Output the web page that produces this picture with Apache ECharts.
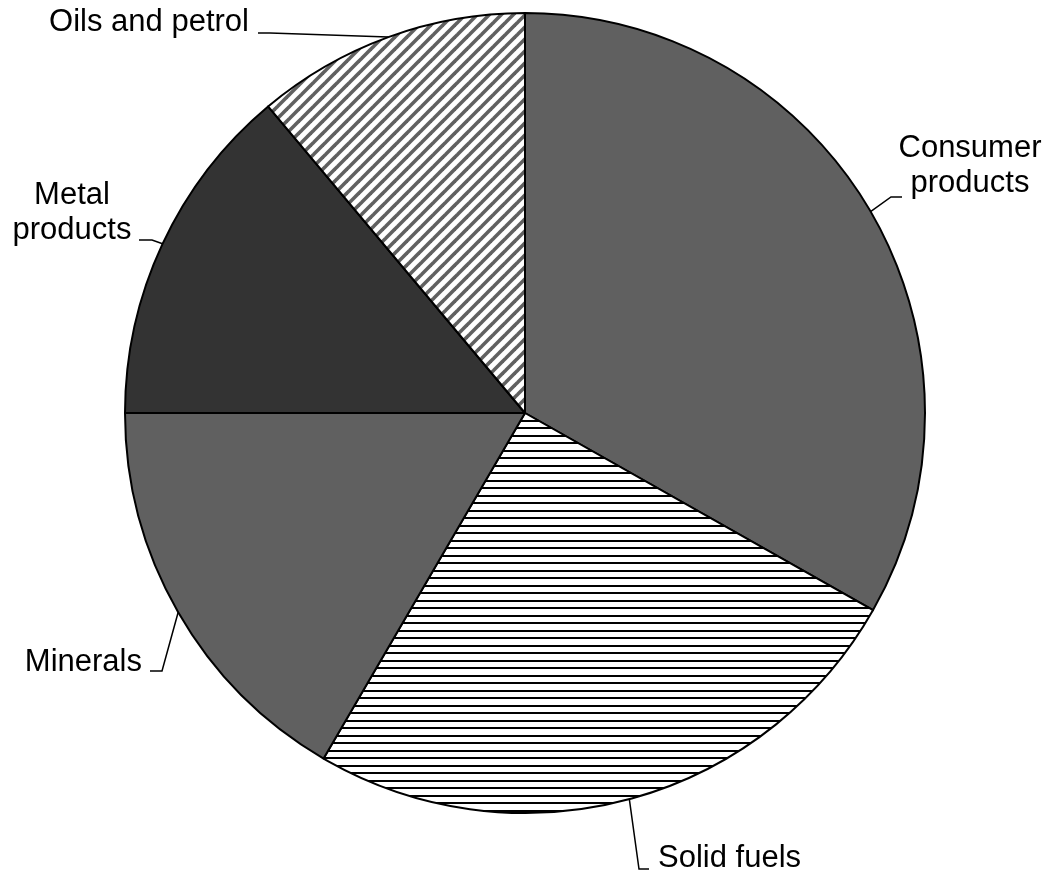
<!DOCTYPE html>
<html>
<head>
<meta charset="utf-8">
<script src="https://cdn.jsdelivr.net/npm/echarts@6/dist/echarts.min.js"></script>
<style>
  html, body { margin: 0; padding: 0; background: #fff; }
  #main { width: 1048px; height: 879px; }
</style>
</head>
<body>
<div id="main"></div>
<script>
// pie shares, clockwise from 12 o'clock
const categories = ['Consumer\nproducts', 'Solid fuels', 'Minerals', 'Metal\nproducts', 'Oils and petrol'];
const shares = [33.2, 25.2, 16.6, 13.9, 11.1];

const CX = 525, CY = 413, R = 400;

// where each label sits and how its leader bends (layout only)
const labelSpots = [
  { x: 970, y: 166, align: 'center', elbow: [891, 197], end: [902, 197] },
  { x: 658, y: 858, align: 'left',   elbow: [639, 869], end: [649, 869] },
  { x: 142, y: 662, align: 'right',  elbow: [162, 671], end: [150, 671] },
  { x: 72,  y: 213, align: 'center', elbow: [152, 240], end: [139, 240] },
  { x: 249, y: 22,  align: 'right',  elbow: [270, 33],  end: [258, 33] }
];

function hLines() {
  const c = document.createElement('canvas');
  c.width = 16; c.height = 15;
  const g = c.getContext('2d');
  g.fillStyle = '#fff'; g.fillRect(0, 0, 16, 15);
  g.fillStyle = '#000';
  g.fillRect(0, 0, 16, 2);
  g.fillRect(0, 7, 16, 2);
  return c;
}
function diagLines() {
  const s = 12;
  const c = document.createElement('canvas');
  c.width = s; c.height = s;
  const g = c.getContext('2d');
  g.fillStyle = '#fff'; g.fillRect(0, 0, s, s);
  g.strokeStyle = '#606060';
  g.lineWidth = 3.6;
  for (let k = -1; k <= 1; k++) {
    g.beginPath();
    g.moveTo(k * s - 2, s + 2);
    g.lineTo(k * s + s + 2, -2);
    g.stroke();
  }
  return c;
}

const fills = [
  '#606060',
  { image: hLines(), repeat: 'repeat' },
  '#606060',
  '#333333',
  { image: diagLines(), repeat: 'repeat' }
];

const total = shares.reduce((a, b) => a + b, 0);
function edgePoint(i) {
  let before = 0;
  for (let k = 0; k < i; k++) before += shares[k];
  const mid = (before + shares[i] / 2) / total * Math.PI * 2;
  return [CX + R * Math.sin(mid), CY - R * Math.cos(mid)];
}

const chart = echarts.init(document.getElementById('main'), null, { renderer: 'canvas' });
chart.setOption({
  backgroundColor: '#fff',
  animation: false,
  series: [{
    type: 'pie',
    center: [CX, CY],
    radius: R,
    startAngle: 90,
    clockwise: true,
    avoidLabelOverlap: false,
    data: categories.map((name, i) => ({
      name: name,
      value: shares[i],
      itemStyle: { color: fills[i] }
    })),
    itemStyle: { borderColor: '#000', borderWidth: 2 },
    label: {
      show: true,
      position: 'outside',
      formatter: '{b}',
      color: '#000',
      fontFamily: 'Liberation Sans, Arial, sans-serif',
      fontSize: 31,
      lineHeight: 35
    },
    labelLine: {
      show: true,
      length: 10,
      length2: 10,
      lineStyle: { color: '#000', width: 1.5 }
    },
    labelLayout: function (params) {
      const s = labelSpots[params.dataIndex];
      return {
        x: s.x,
        y: s.y,
        align: s.align,
        verticalAlign: 'middle',
        labelLinePoints: [edgePoint(params.dataIndex), s.elbow, s.end]
      };
    },
    emphasis: { disabled: true }
  }]
});
</script>
</body>
</html>
